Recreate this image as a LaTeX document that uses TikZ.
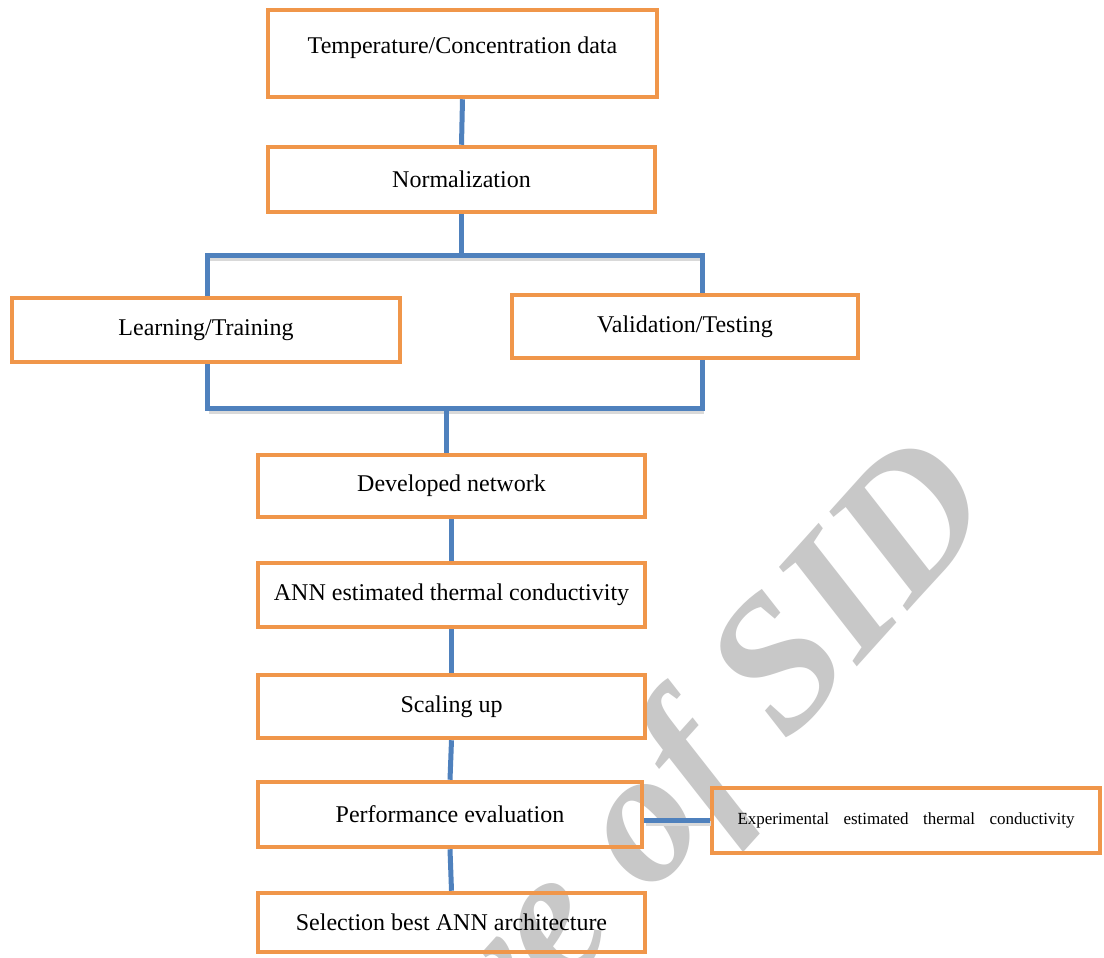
\documentclass[tikz,border=0pt]{standalone}
\usepackage{fontspec}
\setmainfont{Liberation Serif}
\usetikzlibrary{calc}
\definecolor{boxorange}{HTML}{F0964A}
\definecolor{linkblue}{HTML}{4F81BD}
\definecolor{wmgray}{HTML}{C8C8C8}
\begin{document}
\begin{tikzpicture}[x=1pt,y=-1pt,
  stepbox/.style={draw=boxorange, line width=4.5pt, fill=none, inner sep=0pt,
    font=\fontsize{24}{28}\selectfont, text=black, align=center},
  link/.style={draw=linkblue, line width=5pt},
  linkshadow/.style={draw=black!15, line width=5pt, transform canvas={shift={(1.5pt,-3pt)}}}]
\useasboundingbox (0,0) rectangle (1104,958);
\fill[white] (0,0) rectangle (1104,958);
% watermark
\node[text=wmgray, font=\fontsize{190}{190}\bfseries\itshape\selectfont, rotate=48, anchor=base east, inner sep=0pt] (wm) at (1000,508) {Archive of SID};
% boxes
\node[stepbox, minimum width=389pt, minimum height=87pt] (T) at (462.5,53.5) {};
\node[font=\fontsize{24}{28}\selectfont, inner sep=0pt] (Tt) at (462.5,48) {Temperature/Concentration data};
\node[stepbox, minimum width=387pt, minimum height=65pt] (N) at (461.5,179.5) {Normalization};
\node[stepbox, minimum width=388pt, minimum height=64pt] (L) at (206,330) {Learning/Training};
\node[stepbox, minimum width=346pt, minimum height=63pt] (V) at (685,326.5) {Validation/Testing};
\node[stepbox, minimum width=387pt, minimum height=62pt] (D) at (451.5,486) {Developed network};
\node[stepbox, minimum width=387pt, minimum height=64pt] (A) at (451.5,595) {ANN estimated thermal conductivity};
\node[stepbox, minimum width=387pt, minimum height=63pt] (S) at (451.5,706.5) {Scaling up};
\node[stepbox, minimum width=384pt, minimum height=65pt] (P) at (450,814.5) {Performance evaluation};
\node[stepbox, minimum width=387pt, minimum height=59pt] (B) at (451.5,922.5) {Selection best ANN architecture};
\node[stepbox, minimum width=388pt, minimum height=65pt, font=\fontsize{17}{20}\selectfont] (E) at (906,820.5) {Experimental\hspace{0.6em} estimated\hspace{0.6em} thermal\hspace{0.6em} conductivity};
% junction coordinates
\coordinate (bl) at (207,255);
\coordinate (br) at (702,255);
\coordinate (cl) at (207,408);
\coordinate (cr) at (702,408);
\coordinate (jn) at (446,408);
% connector shadows
\draw[linkshadow] (bl) -- (br);
\draw[linkshadow] (cl) -- (cr);
\draw[linkshadow] (P.east |- E.west) -- (E.west);
% connectors
\draw[link] (T.south) -- (N.north);
\draw[link] (N.south) -- (N.south |- bl);
\draw[link] (L.north -| bl) -- (bl) -- (br) -- (V.north -| br);
\draw[link] (L.south -| cl) -- (cl) -- (cr) -- (V.south -| cr);
\draw[link] (jn) -- (D.north -| jn);
\draw[link] (D.south) -- (A.north);
\draw[link] (A.south) -- (S.north);
\draw[link] (S.south) -- (P.north);
\draw[link] (P.south) -- (B.north);
\draw[link] (P.east |- E.west) -- (E.west);
\end{tikzpicture}
\end{document}
